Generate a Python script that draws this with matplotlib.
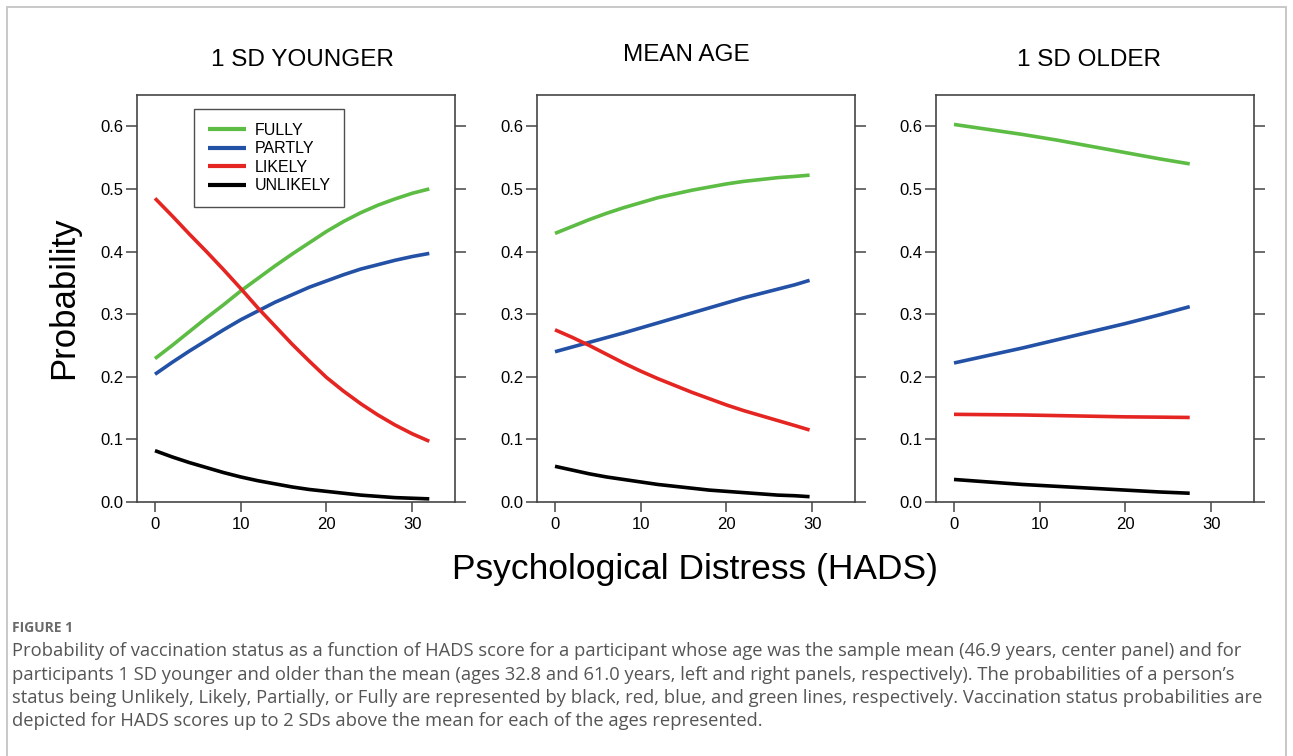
import matplotlib
matplotlib.use("Agg")
import matplotlib.pyplot as plt
from matplotlib.patches import Rectangle

plt.rcParams["font.family"] = ["Liberation Sans", "DejaVu Sans"]

# HADS scores at which each curve was read (curves stop at mean + 2 SD)
hads_young = [0, 2, 4, 6, 8, 10, 12, 14, 16, 18, 20, 22, 24, 26, 28, 30, 32]
hads_mean = [0, 2, 4, 6, 8, 10, 12, 14, 16, 18, 20, 22, 24, 26, 28, 29.7]
hads_old = [0, 4, 8, 12, 16, 20, 24, 27.5]

# predicted probabilities, 1 SD younger (age 32.8)
young_fully = [0.229, 0.250, 0.272, 0.294, 0.315, 0.337, 0.357, 0.377, 0.396,
               0.414, 0.432, 0.448, 0.462, 0.474, 0.484, 0.493, 0.500]
young_partly = [0.204, 0.223, 0.241, 0.258, 0.275, 0.291, 0.305, 0.319, 0.331,
                0.343, 0.353, 0.363, 0.372, 0.379, 0.386, 0.392, 0.397]
young_likely = [0.485, 0.457, 0.428, 0.400, 0.371, 0.341, 0.310, 0.281, 0.252,
                0.225, 0.199, 0.177, 0.157, 0.139, 0.123, 0.109, 0.097]
young_unlikely = [0.082, 0.072, 0.063, 0.055, 0.047, 0.040, 0.034, 0.029, 0.024,
                  0.020, 0.017, 0.014, 0.011, 0.009, 0.007, 0.006, 0.005]

# mean age (46.9)
mean_fully = [0.429, 0.440, 0.451, 0.461, 0.470, 0.478, 0.486, 0.492,
              0.498, 0.503, 0.508, 0.512, 0.515, 0.518, 0.520, 0.522]
mean_partly = [0.240, 0.2475, 0.255, 0.2625, 0.270, 0.278, 0.286, 0.294,
               0.302, 0.310, 0.318, 0.326, 0.333, 0.340, 0.347, 0.354]
mean_likely = [0.275, 0.263, 0.250, 0.236, 0.222, 0.209, 0.197, 0.186,
               0.175, 0.165, 0.155, 0.146, 0.138, 0.130, 0.122, 0.115]
mean_unlikely = [0.057, 0.051, 0.045, 0.040, 0.036, 0.032, 0.028, 0.025,
                 0.022, 0.019, 0.017, 0.015, 0.013, 0.011, 0.010, 0.0085]

# 1 SD older (age 61.0)
old_fully = [0.603, 0.595, 0.587, 0.578, 0.568, 0.558, 0.548, 0.540]
old_partly = [0.222, 0.234, 0.246, 0.259, 0.272, 0.285, 0.299, 0.312]
old_likely = [0.140, 0.1395, 0.139, 0.138, 0.137, 0.136, 0.1355, 0.135]
old_unlikely = [0.036, 0.032, 0.028, 0.025, 0.022, 0.019, 0.016, 0.014]

statuses = ["FULLY", "PARTLY", "LIKELY", "UNLIKELY"]
colors = ["#5cbc44", "#2351a6", "#e52521", "#000000"]
panel_titles = ["1 SD YOUNGER", "MEAN AGE", "1 SD OLDER"]

panels = [
    (hads_young, [young_fully, young_partly, young_likely, young_unlikely]),
    (hads_mean, [mean_fully, mean_partly, mean_likely, mean_unlikely]),
    (hads_old, [old_fully, old_partly, old_likely, old_unlikely]),
]

W, H = 1293, 756
fig = plt.figure(figsize=(W / 100, H / 100), dpi=100)


def fx(x):
    return x / W


def fy(y):
    return 1 - y / H


# outer frame
fig.patches.append(Rectangle((fx(7), fy(770)), fx(1286) - fx(7), fy(7) - fy(770),
                             transform=fig.transFigure, fill=False,
                             edgecolor="#c4c4c4", linewidth=1.3))

ax_lefts = [137, 537, 936]
ax_w = 318
ax_top, ax_bottom = 95, 502
title_pos = [(302, 60), (686, 55), (1089, 60)]
spine_col = "#454545"

for i, (hads, series) in enumerate(panels):
    ax = fig.add_axes([fx(ax_lefts[i]), fy(ax_bottom), ax_w / W, (ax_bottom - ax_top) / H])
    for name, vals, c in zip(statuses, series, colors):
        ax.plot(hads, vals, color=c, linewidth=2.6, solid_capstyle="butt",
                solid_joinstyle="round", label=name)
    ax.set_xlim(-2.1, 35)
    ax.set_ylim(0, 0.65)
    ax.set_xticks([0, 10, 20, 30])
    ax.set_yticks([0.0, 0.1, 0.2, 0.3, 0.4, 0.5, 0.6])
    ax.set_yticklabels(["0.0", "0.1", "0.2", "0.3", "0.4", "0.5", "0.6"])
    ax.tick_params(axis="y", which="both", left=True, right=True, direction="out",
                   length=8, width=1.1, color=spine_col, labelsize=12, pad=2)
    ax.tick_params(axis="x", direction="out", length=7, width=1.1, color=spine_col,
                   labelsize=12, pad=4)
    for s in ax.spines.values():
        s.set_color(spine_col)
        s.set_linewidth(1.2)
    tx, ty = title_pos[i]
    fig.text(fx(tx), fy(ty), panel_titles[i], ha="center", va="center", fontsize=17.5)

    if i == 0:
        leg = ax.legend(loc="upper left", bbox_to_anchor=((194 - 137) / ax_w, (502 - 109) / 407),
                        fontsize=11.5, handlelength=2.4, handletextpad=0.55, labelspacing=0.22,
                        borderpad=0.85, borderaxespad=0, frameon=True, fancybox=False)
        leg.get_frame().set_edgecolor("#222222")
        leg.get_frame().set_linewidth(1.0)
        for line in leg.get_lines():
            line.set_linewidth(3)

fig.text(fx(64), fy(298), "Probability", rotation=90, ha="center", va="center", fontsize=25)
fig.text(fx(695), fy(570), "Psychological Distress (HADS)", ha="center", va="center", fontsize=25.5)

# caption
fig.text(fx(12), fy(628), "FIGURE 1", ha="left", va="center", fontsize=10,
         color="#6a6a6a", fontweight="bold", family=["Open Sans", "DejaVu Sans"])
caption_lines = [
    "Probability of vaccination status as a function of HADS score for a participant whose age was the sample mean (46.9 years, center panel) and for",
    "participants 1 SD younger and older than the mean (ages 32.8 and 61.0 years, left and right panels, respectively). The probabilities of a person\u2019s",
    "status being Unlikely, Likely, Partially, or Fully are represented by black, red, blue, and green lines, respectively. Vaccination status probabilities are",
    "depicted for HADS scores up to 2 SDs above the mean for each of the ages represented.",
]
for k, line in enumerate(caption_lines):
    fig.text(fx(12), fy(651 + k * 23.5), line, ha="left", va="center", fontsize=13.2,
             color="#555555", family=["Open Sans", "DejaVu Sans"])

fig.savefig("out.png", dpi=100)
